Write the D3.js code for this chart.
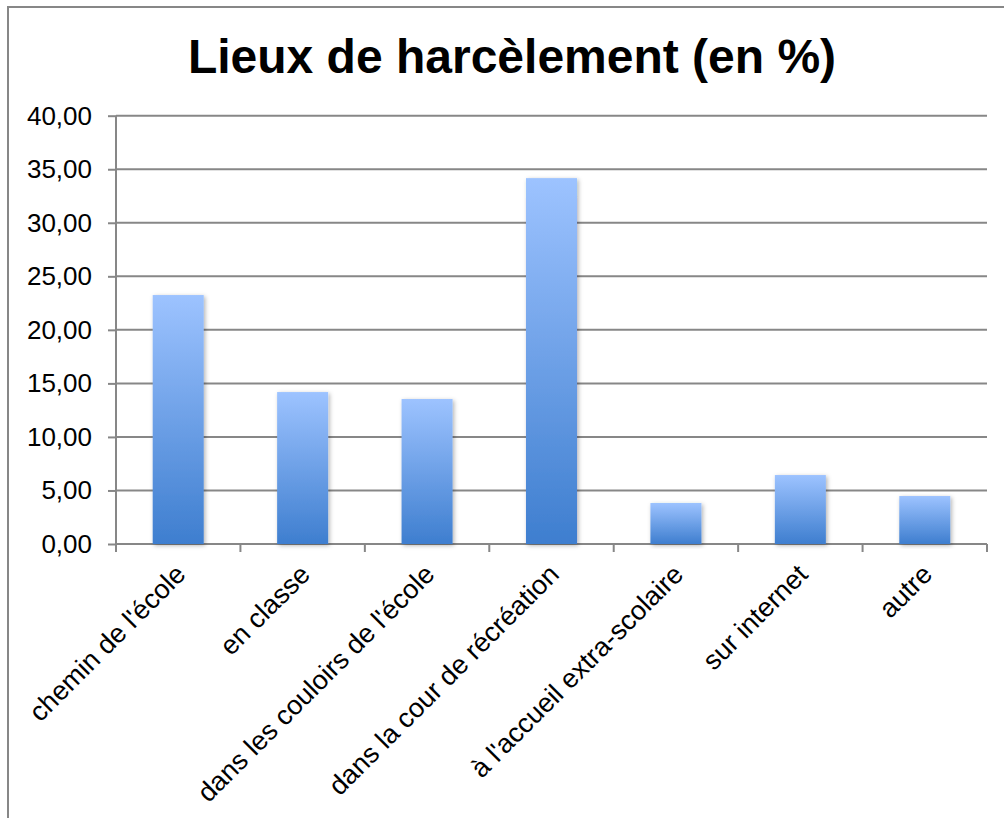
<!DOCTYPE html>
<html>
<head>
<meta charset="utf-8">
<script src="https://cdn.jsdelivr.net/npm/d3@7"></script>
<style>
  body { margin: 0; background: #fff; }
  svg { display: block; font-family: Arial, "Liberation Sans", sans-serif; }
</style>
</head>
<body>
<div id="chart"></div>
<script>
// data
const categories = [
  "chemin de l'école",
  "en classe",
  "dans les couloirs de l'école",
  "dans la cour de récréation",
  "à l'accueil extra-scolaire",
  "sur internet",
  "autre"
];
const values = [23.25, 14.19, 13.54, 34.17, 3.83, 6.44, 4.48];
const yTicks = [0, 5, 10, 15, 20, 25, 30, 35, 40];
const title = "Lieux de harcèlement (en %)";

const width = 1004, height = 818;
const margin = { left: 116, right: 17, top: 115.7, bottom: 274 };

const svg = d3.select("#chart").append("svg")
  .attr("width", width)
  .attr("height", height);

// outer frame (right / bottom edges fall off the picture)
svg.append("rect")
  .attr("x", 8).attr("y", 7)
  .attr("width", width).attr("height", height)
  .attr("fill", "#fff")
  .attr("stroke", "#878787")
  .attr("stroke-width", 2);

const defs = svg.append("defs");
const grad = defs.append("linearGradient")
  .attr("id", "barGrad")
  .attr("x1", 0).attr("y1", 0).attr("x2", 0).attr("y2", 1);
grad.append("stop").attr("offset", "0%").attr("stop-color", "#9DC3FF");
grad.append("stop").attr("offset", "100%").attr("stop-color", "#3E7ECF");

const shadow = defs.append("filter").attr("id", "shadow")
  .attr("x", "-20%").attr("y", "-5%").attr("width", "150%").attr("height", "115%");
shadow.append("feDropShadow")
  .attr("dx", 1.5).attr("dy", 1.5).attr("stdDeviation", 2)
  .attr("flood-color", "#000").attr("flood-opacity", 0.3);

const x = d3.scaleBand()
  .domain(categories)
  .range([margin.left, width - margin.right])
  .paddingInner(0.59)
  .paddingOuter(0.295);

const y = d3.scaleLinear()
  .domain([0, 40])
  .range([height - margin.bottom, margin.top]);

// title
svg.append("text")
  .attr("x", 512)
  .attr("y", 73)
  .attr("text-anchor", "middle")
  .attr("font-size", "48px")
  .attr("font-weight", "bold")
  .attr("fill", "#000")
  .text(title);

// y axis with gridlines
const yAxis = svg.append("g")
  .attr("transform", `translate(${margin.left},0)`)
  .call(d3.axisLeft(y)
    .tickValues(yTicks)
    .tickSize(8)
    .tickFormat(d => d3.format(".2f")(d).replace(".", ",")));
yAxis.select(".domain").remove();
yAxis.selectAll(".tick line").attr("stroke", "#878787").attr("stroke-width", 2);
yAxis.selectAll(".tick text")
  .attr("font-size", "26px")
  .attr("font-family", "Arial, 'Liberation Sans', sans-serif")
  .attr("fill", "#000")
  .attr("x", -24);

svg.append("g").selectAll("line")
  .data(yTicks)
  .join("line")
  .attr("x1", margin.left)
  .attr("x2", width - margin.right)
  .attr("y1", d => y(d))
  .attr("y2", d => y(d))
  .attr("stroke", "#878787")
  .attr("stroke-width", 2);

svg.append("line")
  .attr("x1", margin.left).attr("x2", margin.left)
  .attr("y1", y(40)).attr("y2", y(0) + 8)
  .attr("stroke", "#878787").attr("stroke-width", 2);

// category boundary ticks
const bounds = d3.range(categories.length + 1)
  .map(i => margin.left + i * x.step());
svg.append("g").selectAll("line")
  .data(bounds)
  .join("line")
  .attr("x1", d => d).attr("x2", d => d)
  .attr("y1", y(0)).attr("y2", y(0) + 8)
  .attr("stroke", "#878787").attr("stroke-width", 2);

// bars
svg.append("g").selectAll("rect")
  .data(values)
  .join("rect")
  .attr("x", (d, i) => x(categories[i]))
  .attr("y", d => y(d))
  .attr("width", x.bandwidth())
  .attr("height", d => y(0) - y(d))
  .attr("fill", "url(#barGrad)")
  .attr("filter", "url(#shadow)");

// rotated category labels
svg.append("g").selectAll("text")
  .data(categories)
  .join("text")
  .attr("transform", d => `translate(${x(d) + x.bandwidth() / 2 + 9},${y(0) + 32}) rotate(-45)`)
  .attr("text-anchor", "end")
  .attr("font-size", "27px")
  .attr("fill", "#000")
  .text(d => d);
</script>
</body>
</html>
